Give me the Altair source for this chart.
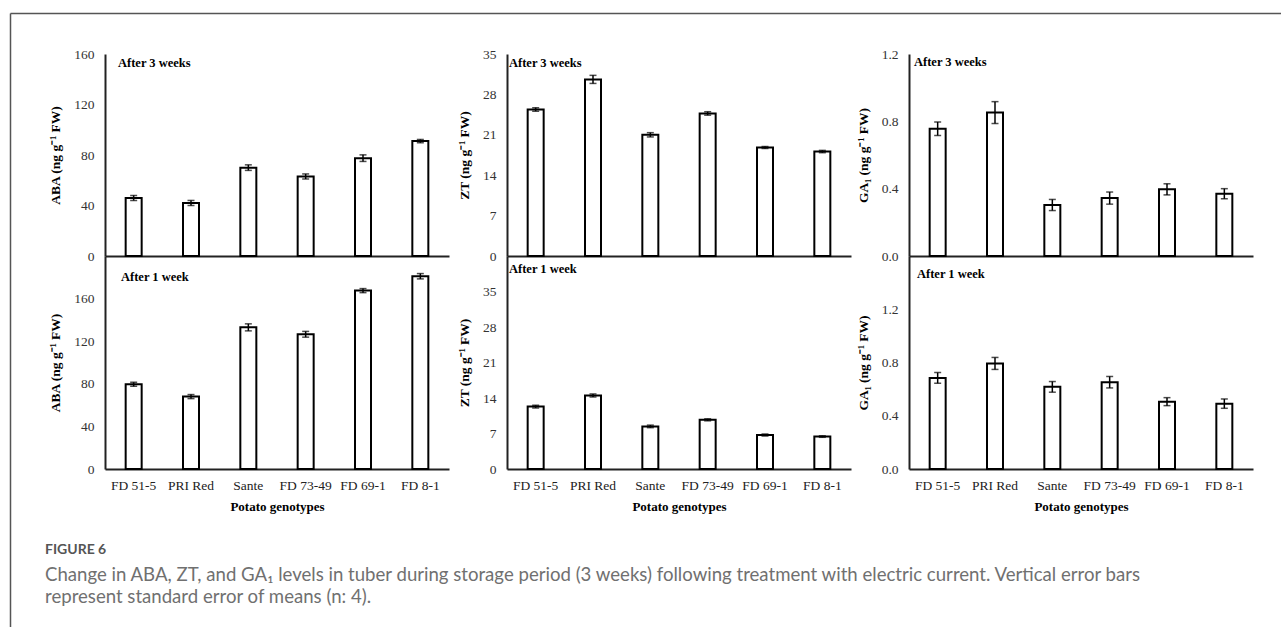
import altair as alt
import pandas as pd

genotypes = ["FD 51-5", "PRI Red", "Sante", "FD 73-49", "FD 69-1", "FD 8-1"]

aba_3w = [46, 42, 70, 63, 77.5, 91]
aba_3w_se = [2.0, 2.0, 2.2, 2.0, 2.6, 1.3]
aba_1w = [79.5, 68, 133, 126.5, 167.5, 181]
aba_1w_se = [1.9, 1.9, 3.3, 2.7, 1.9, 2.5]

zt_3w = [25.4, 30.6, 21.0, 24.7, 18.8, 18.1]
zt_3w_se = [0.3, 0.7, 0.37, 0.3, 0.17, 0.2]
zt_1w = [12.3, 14.5, 8.4, 9.7, 6.7, 6.4]
zt_1w_se = [0.25, 0.3, 0.25, 0.2, 0.2, 0.15]

ga_3w = [0.756, 0.852, 0.303, 0.344, 0.396, 0.370]
ga_3w_se = [0.04, 0.065, 0.033, 0.036, 0.033, 0.03]
ga_1w = [0.684, 0.793, 0.617, 0.652, 0.506, 0.491]
ga_1w_se = [0.04, 0.045, 0.04, 0.043, 0.03, 0.035]

aba_title = "ABA (ng g\u207b\u00b9 FW)"
zt_title = "ZT (ng g\u207b\u00b9 FW)"
ga_title = "GA\u2081 (ng g\u207b\u00b9 FW)"
x_title = "Potato genotypes"

fig_label = "FIGURE 6"
caption_1 = ("Change in ABA, ZT, and GA\u2081 levels in tuber during storage period (3 weeks) "
             "following treatment with electric current. Vertical error bars")
caption_2 = "represent standard error of means (n: 4)."

SERIF = "Liberation Serif"
SANS = "Lato"
W = 344
H_TOP = 202
H_BOT = 213


def text_layer(txt, x, y, font, size, weight="normal", color="black", baseline="middle"):
    return alt.Chart(pd.DataFrame({"t": [txt]})).mark_text(
        align="left", baseline=baseline, font=font, fontSize=size,
        fontWeight=weight, color=color
    ).encode(x=alt.value(x), y=alt.value(y), text="t:N")


def panel(values, se, ytitle, domain, ticks, fmt, height, top, label, lx, ly, extra=None):
    df = pd.DataFrame({
        "g": genotypes,
        "v": values,
        "lo": [v - s for v, s in zip(values, se)],
        "hi": [v + s for v, s in zip(values, se)],
    })
    if top:
        xaxis = alt.Axis(labels=False, ticks=False, domainColor="#222", domainWidth=2)
        x = alt.X("g:N", sort=genotypes, title=None,
                  scale=alt.Scale(paddingInner=0, paddingOuter=0), axis=xaxis)
    else:
        xaxis = alt.Axis(labelAngle=0, ticks=False, tickSize=0, labelFont=SERIF,
                         labelFontSize=13.5, labelColor="#222", labelPadding=9,
                         titleFont=SERIF, titleFontSize=13, titleFontWeight="bold",
                         titleColor="black", titlePadding=9,
                         domainColor="#222", domainWidth=2)
        x = alt.X("g:N", sort=genotypes, title=x_title,
                  scale=alt.Scale(paddingInner=0, paddingOuter=0), axis=xaxis)
    yaxis = alt.Axis(values=ticks, format=fmt, grid=False, ticks=False, tickSize=0,
                     labelFont=SERIF, labelFontSize=13.5, labelColor="#333",
                     labelPadding=11, titleFont=SERIF, titleFontSize=13.5,
                     titleFontWeight="bold", titleColor="black", titlePadding=11,
                     domainColor="#222", domainWidth=2)
    base = alt.Chart(df).encode(x=x)
    bars = base.mark_bar(size=16, fill="white", stroke="black", strokeWidth=2).encode(
        y=alt.Y("v:Q", title=ytitle, scale=alt.Scale(domain=domain, nice=False), axis=yaxis)
    )
    err = base.mark_rule(color="black", strokeWidth=1.5).encode(y="lo:Q", y2="hi:Q")
    cap_lo = base.mark_tick(color="black", size=7, thickness=1.5).encode(y="lo:Q")
    cap_hi = base.mark_tick(color="black", size=7, thickness=1.5).encode(y="hi:Q")
    lab = text_layer(label, lx, ly, SERIF, 12.5, weight="bold")
    layers = [bars, err, cap_lo, cap_hi, lab] + (extra or [])
    return alt.layer(*layers).properties(width=W, height=height)


# frame and caption, placed relative to the first panel's plot origin
frame_top = alt.Chart(pd.DataFrame({"a": [0]})).mark_rule(color="#555", strokeWidth=1.5).encode(
    x=alt.value(-94.5), x2=alt.value(1176), y=alt.value(-40.5))
frame_left = alt.Chart(pd.DataFrame({"a": [0]})).mark_rule(color="#555", strokeWidth=1.5).encode(
    x=alt.value(-94.5), y=alt.value(-40.5), y2=alt.value(573))
extra = [
    frame_top, frame_left,
    text_layer(fig_label, -60, 500, SANS, 14, weight="bold", color="#555", baseline="alphabetic"),
    text_layer(caption_1, -60, 527, SANS, 18.6, color="#707070", baseline="alphabetic"),
    text_layer(caption_2, -60, 549, SANS, 18.6, color="#707070", baseline="alphabetic"),
]

charts = [
    panel(aba_3w, aba_3w_se, aba_title, [0, 160], [0, 40, 80, 120, 160], "d", H_TOP, True,
          "After 3 weeks", 13, 9, extra),
    panel(zt_3w, zt_3w_se, zt_title, [0, 35], [0, 7, 14, 21, 28, 35], "d", H_TOP, True,
          "After 3 weeks", 2, 9),
    panel(ga_3w, ga_3w_se, ga_title, [0, 1.2], [0, 0.4, 0.8, 1.2], ".1f", H_TOP, True,
          "After 3 weeks", 5, 8),
    panel(aba_1w, aba_1w_se, aba_title, [0, 200], [0, 40, 80, 120, 160], "d", H_BOT, False,
          "After 1 week", 16, 21),
    panel(zt_1w, zt_1w_se, zt_title, [0, 42], [0, 7, 14, 21, 28, 35], "d", H_BOT, False,
          "After 1 week", 2, 13),
    panel(ga_1w, ga_1w_se, ga_title, [0, 1.6], [0, 0.4, 0.8, 1.2], ".1f", H_BOT, False,
          "After 1 week", 8, 18),
]

chart = alt.concat(*charts, columns=3, spacing={"row": 0, "column": 58},
                   bounds="flush").properties(
    padding={"left": 9, "top": 12, "right": 0, "bottom": 0},
    background="white",
).configure_view(strokeWidth=0)

chart.save("out.html", embed_options={"renderer": "svg", "actions": False})
